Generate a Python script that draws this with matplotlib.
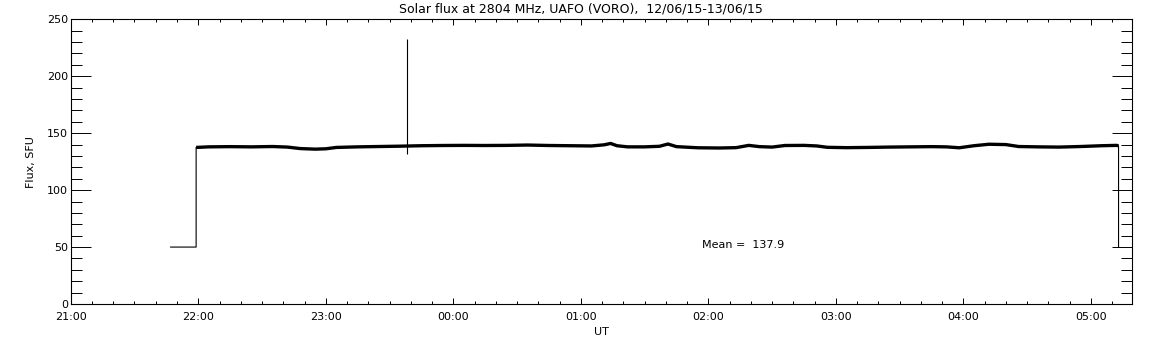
import matplotlib
matplotlib.use("Agg")
import matplotlib.pyplot as plt
from matplotlib.ticker import MultipleLocator, FixedLocator

# flux trace (UT, SFU)
times = ["21:47", "21:59", "21:59", "22:05", "22:15", "22:25", "22:35", "22:42",
         "22:48", "22:55", "23:00", "23:05", "23:15", "23:25", "23:35", "23:45",
         "23:55", "00:05", "00:15", "00:25", "00:35", "00:45", "00:55", "01:05",
         "01:11", "01:14", "01:17", "01:22", "01:30", "01:37", "01:41", "01:45",
         "01:55", "02:05", "02:13", "02:19", "02:24", "02:30", "02:36", "02:45",
         "02:51", "02:56", "03:05", "03:15", "03:25", "03:35", "03:45", "03:52",
         "03:58", "04:05", "04:12", "04:20", "04:26", "04:35", "04:45", "04:55",
         "05:05", "05:12", "05:13", "05:13"]
flux = [50, 50, 137.5, 138.0, 138.2, 138.0, 138.3, 137.8,
        136.5, 136.0, 136.3, 137.5, 138.0, 138.3, 138.6, 139.0,
        139.2, 139.3, 139.2, 139.3, 139.6, 139.2, 139.0, 138.8,
        139.8, 141.0, 139.0, 138.0, 138.0, 138.5, 140.5, 138.2,
        137.2, 137.0, 137.3, 139.3, 138.2, 137.8, 139.2, 139.3,
        138.8, 137.6, 137.3, 137.5, 137.8, 138.0, 138.2, 138.0,
        137.2, 139.0, 140.3, 140.0, 138.3, 138.0, 137.8, 138.3,
        139.0, 139.3, 139.0, 50]

# single interference spike
spike_time = "23:38"
spike_lo = 132
spike_hi = 233

mean_flux = 137.9
x_ticks = ["21:00", "22:00", "23:00", "00:00", "01:00", "02:00", "03:00", "04:00", "05:00"]


def to_hours(s):
    hh, mm = s.split(":")
    h = int(hh) + int(mm) / 60.0
    if h < 21:
        h += 24
    return h


x = [to_hours(t) for t in times]
tick_pos = [to_hours(t) for t in x_ticks]

fig = plt.figure(figsize=(11.52, 3.45), dpi=100)
ax = fig.add_axes([0.0614, 0.1188, 0.921, 0.8252])

ax.plot(x, flux, color="black", lw=0.8)
ax.plot(x[2:-1], flux[2:-1], color="black", lw=2.4, solid_capstyle="butt")
sx = to_hours(spike_time)
ax.vlines(sx, spike_lo, spike_hi, color="black", lw=0.8)

ax.set_xlim(21.0, 29.32)
ax.set_ylim(0, 250)
ax.xaxis.set_major_locator(FixedLocator(tick_pos))
ax.set_xticklabels(x_ticks)
ax.xaxis.set_minor_locator(MultipleLocator(1 / 6))
ax.yaxis.set_major_locator(MultipleLocator(50))
ax.yaxis.set_minor_locator(MultipleLocator(10))

ax.tick_params(axis="x", which="major", direction="in", length=4.0, width=0.7,
               top=True, bottom=True, labelsize=8, pad=6)
ax.tick_params(axis="x", which="minor", direction="in", length=2.2, width=0.7,
               top=True, bottom=True)
ax.tick_params(axis="y", which="major", direction="in", length=14.4, width=0.7,
               left=True, right=True, labelsize=8, pad=2)
ax.tick_params(axis="y", which="minor", direction="in", length=7.9, width=0.7,
               left=True, right=True)
for sp in ax.spines.values():
    sp.set_linewidth(0.8)

ax.set_xlabel("UT", fontsize=8, labelpad=3)
ax.set_ylabel("Flux, SFU", fontsize=8, labelpad=8)
fig.text(581 / 1152, 1 - 9 / 345, "Solar flux at 2804 MHz, UAFO (VORO),  12/06/15-13/06/15",
         ha="center", va="center", fontsize=9)
ax.text(to_hours("01:57"), 49, "Mean =  %.1f" % mean_flux, fontsize=8, va="baseline")

fig.savefig("out.png", dpi=100)
